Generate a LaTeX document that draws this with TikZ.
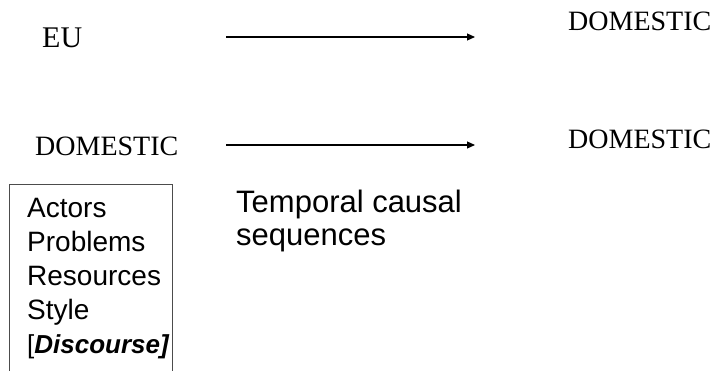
\documentclass[tikz,border=0pt]{standalone}
\usepackage{fontspec}
\setmainfont{Liberation Serif}
\setsansfont{Liberation Sans}
\usetikzlibrary{arrows.meta}
\tikzset{
  serifword/.style={anchor=base west, inner sep=0pt, font=\fontsize{28}{28}\selectfont},
  listword/.style={anchor=base west, inner sep=0pt, font=\sffamily\fontsize{28}{28}\selectfont},
  noteword/.style={anchor=base west, inner sep=0pt, font=\sffamily\fontsize{31}{31}\selectfont},
  flow/.style={line width=1.1pt, -{Triangle[length=8pt,width=7pt]}},
  frame/.style={line width=1pt, draw=black!70}
}
\begin{document}
\begin{tikzpicture}[x=1pt, y=-1pt]
  \useasboundingbox (0,0) rectangle (720,370);

  % upper row: EU -> DOMESTIC
  \node[serifword, font=\fontsize{30}{30}\selectfont] (eu) at (42,47) {EU};
  \node[serifword] (domA) at (568,30) {DOMESTIC};
  \coordinate (a1s) at (226,37);
  \coordinate (a1e) at (475,37);
  \draw[flow] (a1s) -- (a1e);

  % lower row: DOMESTIC -> DOMESTIC
  \node[serifword] (domB) at (35,155) {DOMESTIC};
  \node[serifword] (domC) at (568,148) {DOMESTIC};
  \coordinate (a2s) at (226,145);
  \coordinate (a2e) at (475,145);
  \draw[flow] (a2s) -- (a2e);

  % open-bottomed box with the list of dimensions
  \draw[frame] (9,371) -- (9,184) -- (172,184) -- (172,371);
  \node[listword] (l1) at (27,217) {Actors};
  \node[listword] (l2) at (27,251) {Problems};
  \node[listword] (l3) at (27,285) {Resources};
  \node[listword] (l4) at (27,319) {Style};
  \node[listword, font=\sffamily\fontsize{26}{26}\selectfont] (l5) at (27,353) {[\textbf{\textit{Discourse]}}};

  % caption beside the box
  \node[noteword] (t1) at (236,212) {Temporal causal};
  \node[noteword] (t2) at (236,245) {sequences};
\end{tikzpicture}
\end{document}
